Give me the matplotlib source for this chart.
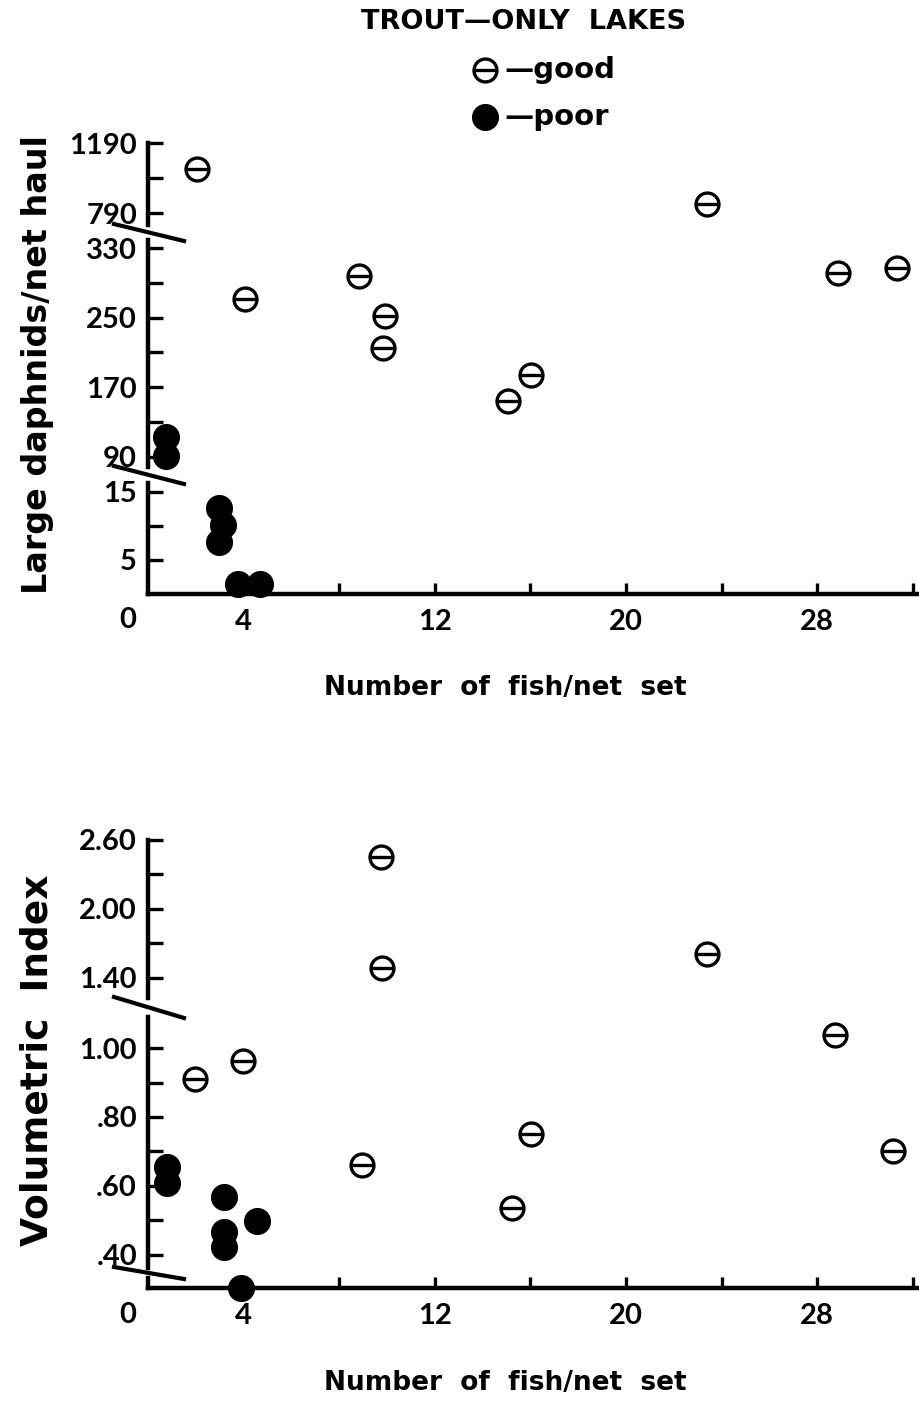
import matplotlib
matplotlib.use("Agg")
import matplotlib.pyplot as plt
from matplotlib.path import Path
from matplotlib.lines import Line2D

plt.rcParams['font.family'] = ['Lato', 'DejaVu Sans']
plt.rcParams['font.weight'] = 'bold'
WIDE = ['DejaVu Sans']

# ---------------- data ----------------
top_good_x = [2.05, 4.06, 8.83, 9.92, 9.83, 15.06, 16.03, 23.39, 28.87, 31.34]
top_good_y = [1043, 272, 298, 252, 215, 154, 184, 843, 302, 307]
top_poor_x = [0.74, 0.74, 2.97, 3.14, 2.97, 3.77, 4.69]
top_poor_y = [113, 91, 12.6, 10.2, 7.6, 1.4, 1.4]

bot_good_x = [1.97, 3.97, 9.75, 9.79, 8.95, 16.03, 15.23, 23.39, 28.74, 31.17]
bot_good_y = [0.91, 0.962, 2.45, 1.487, 0.66, 0.75, 0.536, 1.61, 1.038, 0.70]
bot_poor_x = [0.78, 0.78, 3.18, 3.18, 3.18, 4.55, 3.90]
bot_poor_y = [0.656, 0.609, 0.569, 0.467, 0.424, 0.497, 0.0]

x_ticks = [4, 8, 12, 16, 20, 24, 28, 32]
x_ticklabels = ['4', '', '12', '', '20', '', '28', '']

# y segments: (ylim, ticks, labels)
top_segments = [
    ((723, 1190), [790, 990, 1190], ['790', '', '1190']),
    ((78, 339.6), [90, 130, 170, 210, 250, 290, 330], ['90', '', '170', '', '250', '', '330']),
    ((0, 16.3), [5, 10, 15], ['5', '', '15']),
]
bot_segments = [
    ((1.226, 2.60), [1.40, 1.70, 2.00, 2.30, 2.60], ['1.40', '', '2.00', '', '2.60']),
    ((0.362, 1.09), [0.40, 0.50, 0.60, 0.70, 0.80, 0.90, 1.00], ['.40', '', '.60', '', '.80', '', '1.00']),
    ((0.0, 0.029), [], []),
]

# ---------------- layout (pixels) ----------------
W, H = 919, 1410
fig = plt.figure(figsize=(W / 100, H / 100), dpi=100)
LEFT, RIGHT = 148, 919
XLIM = (0, 32.26)

top_px = [(143, 225), (240, 467), (483, 594)]
bot_px = [(840, 998), (1017, 1268), (1278, 1288)]

theta = Path.make_compound_path(
    Path.unit_circle(),
    Path([(-1.0, 0.0), (1.0, 0.0)], [Path.MOVETO, Path.LINETO]))

LW = 3.2
TICKFS = 21


def add_ax(top, bottom):
    return fig.add_axes([LEFT / W, 1 - bottom / H, (RIGHT - LEFT) / W, (bottom - top) / H])


def build_panel(segs, pxs, gx, gy, px, py, ylabel, ylab_fs, ylab_y, xlab_y):
    axes = []
    for i, ((lim, ticks, labels), (t, b)) in enumerate(zip(segs, pxs)):
        ax = add_ax(t, b)
        ax.set_xlim(*XLIM)
        ax.set_ylim(*lim)
        ax.patch.set_visible(False)
        for s in ['top', 'right']:
            ax.spines[s].set_visible(False)
        ax.spines['left'].set_linewidth(LW)
        last = i == len(segs) - 1
        ax.spines['bottom'].set_visible(last)
        ax.spines['bottom'].set_linewidth(LW)
        ax.set_yticks(ticks)
        ax.set_yticklabels(labels)
        ax.tick_params(axis='y', direction='in', length=11, width=2.4, pad=8,
                       labelsize=TICKFS)
        if last:
            ax.set_xticks(x_ticks)
            ax.set_xticklabels(x_ticklabels)
            ax.tick_params(axis='x', direction='in', length=8, width=2.4, pad=11,
                           labelsize=TICKFS)
        else:
            ax.set_xticks([])
        lo, hi = lim
        gxs = [x for x, y in zip(gx, gy) if lo - 1e-9 <= y <= hi]
        gys = [y for y in gy if lo - 1e-9 <= y <= hi]
        pxs_ = [x for x, y in zip(px, py) if lo - 1e-9 <= y <= hi]
        pys_ = [y for y in py if lo - 1e-9 <= y <= hi]
        ax.plot(gxs, gys, linestyle='none', marker=theta, markersize=16.5,
                markerfacecolor='white', markeredgecolor='black',
                markeredgewidth=2.4, clip_on=False, zorder=5)
        ax.plot(pxs_, pys_, linestyle='none', marker='o', markersize=18.5,
                markerfacecolor='black', markeredgecolor='black',
                clip_on=False, zorder=6)
        axes.append(ax)
    # break marks
    for (t1, b1), (t2, b2) in zip(pxs[:-1], pxs[1:]):
        xs = [(LEFT - 34) / W, (LEFT + 36) / W]
        ys = [1 - (b1 - 1) / H, 1 - (t2 + 1) / H]
        fig.add_artist(Line2D(xs, ys, color='black', lw=3.0,
                              transform=fig.transFigure))
    # "0" label for x origin
    fig.text(128 / W, 1 - (xlab_y - 68) / H, '0', ha='center', va='center',
             fontsize=TICKFS)
    fig.text(38 / W, 1 - ylab_y / H, ylabel, rotation=90, ha='center',
             va='center', fontsize=ylab_fs, family=WIDE)
    fig.text(505 / W, 1 - xlab_y / H, 'Number  of  fish/net  set', ha='center',
             va='center', fontsize=19, family=WIDE)
    return axes


build_panel(top_segments, top_px, top_good_x, top_good_y, top_poor_x, top_poor_y,
            'Large daphnids/net haul', 24, 365, 688)
build_panel(bot_segments, bot_px, bot_good_x, bot_good_y, bot_poor_x, bot_poor_y,
            'Volumetric  Index', 27, 1060, 1383)

# legend
fig.text(524 / W, 1 - 22 / H, 'TROUT—ONLY  LAKES', ha='center', va='center',
         fontsize=19.5, family=WIDE)
fig.add_artist(Line2D([485 / W], [1 - 70 / H], marker=theta, markersize=16.5,
                      markerfacecolor='white', markeredgecolor='black',
                      markeredgewidth=2.4, transform=fig.transFigure))
fig.add_artist(Line2D([485 / W], [1 - 117 / H], marker='o', markersize=18.5,
                      color='black', transform=fig.transFigure))
fig.text(504 / W, 1 - 70 / H, '—good', ha='left', va='center', fontsize=21,
         family=WIDE)
fig.text(504 / W, 1 - 117 / H, '—poor', ha='left', va='center', fontsize=21,
         family=WIDE)

fig.savefig('out.png', dpi=100)
